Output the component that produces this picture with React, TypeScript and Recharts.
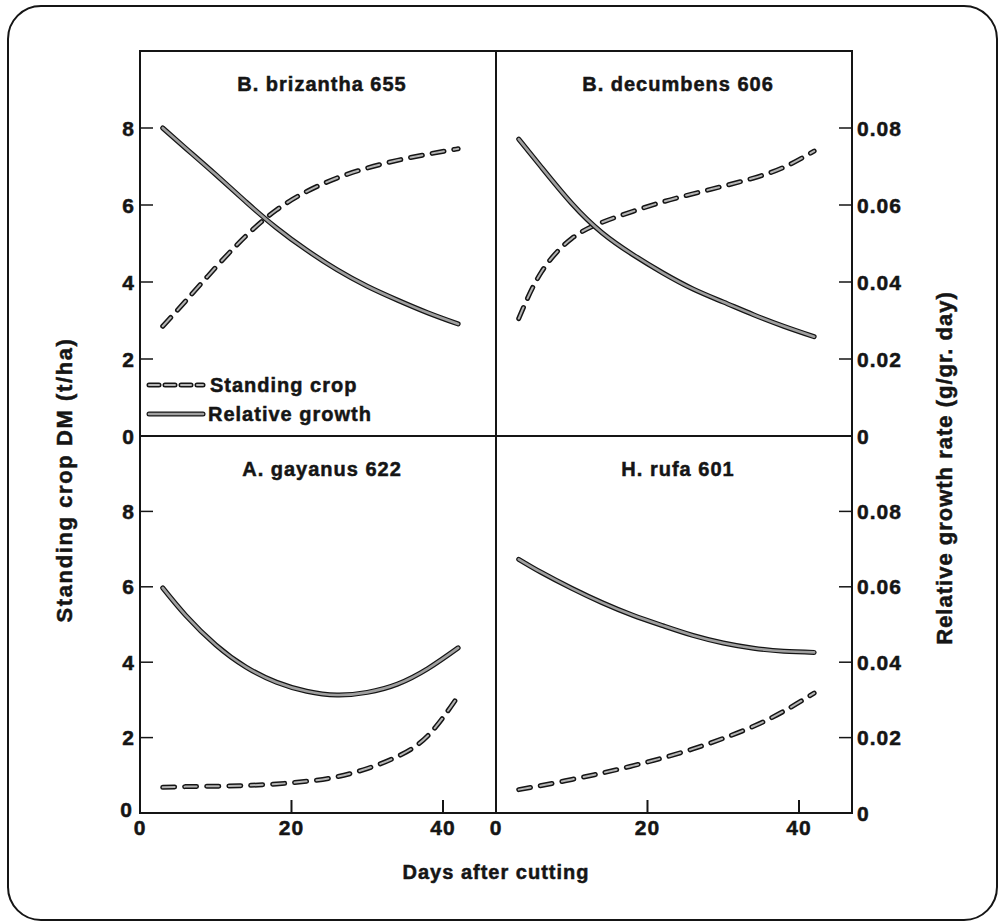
import { LineChart, Line, XAxis, YAxis, Label, Legend, ReferenceArea } from "recharts";

// days after cutting, shared by every panel
const days = [3, 6, 10, 14, 18, 22, 26, 30, 34, 38, 42];

// standing crop DM (t/ha) and relative growth rate (g/g/day)
const brizanthaCrop = [2.85, 3.5, 4.38, 5.2, 5.87, 6.35, 6.7, 6.96, 7.16, 7.32, 7.46];
const brizanthaRgr = [0.08, 0.0748, 0.0679, 0.0608, 0.0541, 0.0483, 0.0432, 0.0389, 0.0353, 0.032, 0.0291];
const decumbensCrop = [3.05, 4.26, 5.13, 5.55, 5.83, 6.08, 6.29, 6.49, 6.7, 6.98, 7.4];
const decumbensRgr = [0.0771, 0.0698, 0.0604, 0.0528, 0.0472, 0.0424, 0.0382, 0.0348, 0.0315, 0.0285, 0.0258];
const gayanusCrop = [0.68, 0.7, 0.71, 0.73, 0.77, 0.84, 0.96, 1.18, 1.5, 2.05, 3.1];
const gayanusRgr = [0.0597, 0.0525, 0.0446, 0.0387, 0.0347, 0.0323, 0.0313, 0.032, 0.0342, 0.0383, 0.0438];
const rufaCrop = [0.62, 0.73, 0.89, 1.06, 1.25, 1.46, 1.7, 1.98, 2.3, 2.7, 3.18];
const rufaRgr = [0.0673, 0.0638, 0.0596, 0.0558, 0.0525, 0.0497, 0.0471, 0.0451, 0.0437, 0.0429, 0.0426];

const cropTicks = [0, 2, 4, 6, 8];
const rgrTicks = [0, 0.02, 0.04, 0.06, 0.08];
const dayTicks = [0, 20, 40];

const FONT = "'Liberation Sans', Arial, Helvetica, sans-serif";
const INK = "#151515";
const TXT = {
  fontFamily: FONT,
  fontWeight: 700,
  fontSize: 20,
  letterSpacing: 1,
  fill: INK,
  stroke: INK,
  strokeWidth: 0.5,
};
const TICK = { ...TXT, fontSize: 21 };

const PW = 356;
const M = 10;

function CropTick(props: any) {
  const { x, y, payload, low } = props;
  const v = payload.value;
  const ax = x + 5;
  return (
    <g>
      {v > 0 && <line x1={ax} x2={ax + 13} y1={y} y2={y} stroke={INK} strokeWidth={1.5} />}
      <text x={v === 0 && low ? x - 2 : x} y={v === 0 && low ? y - 4 : y} dy="0.36em" textAnchor="end" style={TICK}>
        {v}
      </text>
    </g>
  );
}

function RgrTick(props: any) {
  const { x, y, payload } = props;
  const v = payload.value;
  const ax = x - 5;
  return (
    <g>
      {v > 0 && <line x1={ax - 13} x2={ax} y1={y} y2={y} stroke={INK} strokeWidth={1.5} />}
      <text x={x} y={y} dy="0.36em" textAnchor="start" style={TICK}>
        {v === 0 ? "0" : v.toFixed(2)}
      </text>
    </g>
  );
}

function DayTick(props: any) {
  const { x, y, payload } = props;
  const v = payload.value;
  const ay = y - 7;
  return (
    <g>
      {v > 0 && <line x1={x} x2={x} y1={ay} y2={ay - 13} stroke={INK} strokeWidth={2} />}
      <text x={x} y={y} dy="0.71em" textAnchor="middle" style={TICK}>
        {v}
      </text>
    </g>
  );
}

function LegendBox() {
  return (
    <svg width={250} height={56} style={{ overflow: "visible" }}>
      <line x1={4} x2={58} y1={12} y2={12} stroke={INK} strokeWidth={5} strokeDasharray="10 6" strokeLinecap="round" />
      <line x1={4} x2={58} y1={12} y2={12} stroke="#b5b5b5" strokeWidth={2} strokeDasharray="10 6" strokeLinecap="round" />
      <text x={65} y={12} dy="0.36em" style={TXT}>Standing crop</text>
      <line x1={4} x2={58} y1={41} y2={41} stroke={INK} strokeWidth={5} strokeLinecap="round" />
      <line x1={4} x2={58} y1={41} y2={41} stroke="#a0a0a0" strokeWidth={2.6} strokeLinecap="round" />
      <text x={63} y={41} dy="0.36em" style={TXT}>Relative growth</text>
    </svg>
  );
}

type PanelProps = {
  title: string;
  crop: number[];
  rgr: number[];
  x: number;
  y: number;
  h: number;
  left: boolean;
  bottom: boolean;
  legend?: boolean;
};

function Panel({ title, crop, rgr, x, y, h, left, bottom, legend }: PanelProps) {
  const data = days.map((d, i) => ({ day: d, crop: crop[i], rgr: rgr[i] }));
  const LW = left ? 45 : 0;
  const RW = left ? 0 : 70;
  const BH = bottom ? 35 : 25;
  const width = M + LW + PW + RW + M;
  const height = M + h + BH + M;
  const cx = x - M - LW;
  const cy = y - M;
  return (
    <div style={{ position: "absolute", left: cx, top: cy }}>
      <LineChart width={width} height={height} data={data} margin={{ top: M, right: M, bottom: M, left: M }}>
        <XAxis
          xAxisId="b"
          dataKey="day"
          type="number"
          domain={[0, 47]}
          ticks={dayTicks}
          tick={bottom ? <DayTick /> : false}
          tickLine={false}
          tickSize={0}
          tickMargin={7}
          height={BH}
          axisLine={false}
        />
        <YAxis
          yAxisId="l"
          domain={[0, 10]}
          ticks={cropTicks}
          width={LW}
          tick={left ? <CropTick low={bottom} /> : false}
          tickLine={false}
          tickSize={0}
          tickMargin={5}
          axisLine={false}
        />
        <YAxis
          yAxisId="r"
          orientation="right"
          domain={[0, 0.1]}
          ticks={rgrTicks}
          width={RW}
          tick={left ? false : <RgrTick />}
          tickLine={false}
          tickSize={0}
          tickMargin={5}
          axisLine={false}
        />
        <ReferenceArea
          xAxisId="b"
          yAxisId="l"
          x1={0}
          x2={47}
          y1={0}
          y2={10}
          fill="none"
          fillOpacity={0}
          stroke={INK}
          strokeWidth={2}
          label={<Label value={title} position="insideTop" offset={26} dx={4} style={TXT} />}
        />
        {legend && (
          <Legend
            layout="vertical"
            align="center"
            verticalAlign="middle"
            content={() => <LegendBox />}
            wrapperStyle={{ left: 145 - cx, top: 373 - cy, width: 250 }}
          />
        )}
        <Line xAxisId="b" yAxisId="l" dataKey="crop" type="natural" stroke={INK} strokeWidth={5}
          strokeDasharray="12 10" strokeLinecap="round" dot={false} activeDot={false} isAnimationActive={false} />
        <Line xAxisId="b" yAxisId="l" dataKey="crop" type="natural" stroke="#b5b5b5" strokeWidth={2}
          strokeDasharray="12 10" strokeLinecap="round" dot={false} activeDot={false} isAnimationActive={false} />
        <Line xAxisId="b" yAxisId="r" dataKey="rgr" type="natural" stroke={INK} strokeWidth={5}
          strokeLinecap="round" dot={false} activeDot={false} isAnimationActive={false} />
        <Line xAxisId="b" yAxisId="r" dataKey="rgr" type="natural" stroke="#a0a0a0" strokeWidth={2.6}
          strokeLinecap="round" dot={false} activeDot={false} isAnimationActive={false} />
      </LineChart>
    </div>
  );
}

export default function App() {
  const title = {
    position: "absolute" as const,
    fontFamily: FONT,
    fontWeight: 700,
    fontSize: 20,
    letterSpacing: 1,
    color: INK,
    WebkitTextStroke: "0.5px " + INK,
    whiteSpace: "nowrap" as const,
  };
  return (
    <div style={{ position: "absolute", left: 0, top: 0, width: 1002, height: 922, background: "#fff" }}>
      <div style={{ position: "absolute", left: 7, top: 5, width: 991, height: 916, boxSizing: "border-box", border: `2px solid ${INK}`, borderRadius: 34 }} />
      <Panel title="B. brizantha 655" crop={brizanthaCrop} rgr={brizanthaRgr} x={140} y={51} h={385} left bottom={false} legend />
      <Panel title="B. decumbens 606" crop={decumbensCrop} rgr={decumbensRgr} x={496} y={51} h={385} left={false} bottom={false} />
      <Panel title="A. gayanus 622" crop={gayanusCrop} rgr={gayanusRgr} x={140} y={436} h={377} left bottom />
      <Panel title="H. rufa 601" crop={rufaCrop} rgr={rufaRgr} x={496} y={436} h={377} left={false} bottom />
      <div style={{ ...title, fontSize: 22, letterSpacing: 1.6, left: 65, top: 480, transform: "translate(-50%, -50%) rotate(-90deg)" }}>Standing crop DM (t/ha)</div>
      <div style={{ ...title, fontSize: 22, left: 945, top: 468, transform: "translate(-50%, -50%) rotate(-90deg)" }}>Relative growth rate (g/gr. day)</div>
      <div style={{ ...title, left: 496, top: 872, transform: "translate(-50%, -50%)" }}>Days after cutting</div>
    </div>
  );
}
